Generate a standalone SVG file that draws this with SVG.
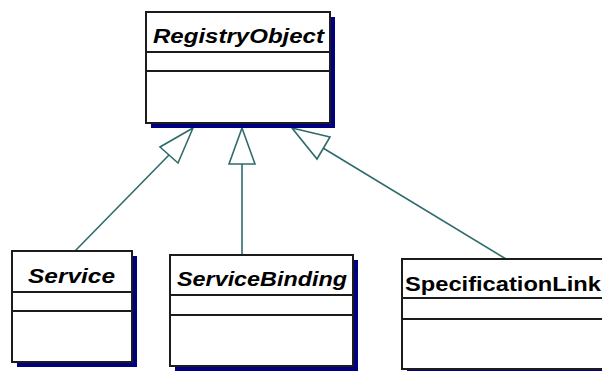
<svg xmlns="http://www.w3.org/2000/svg" width="602" height="371" viewBox="0 0 602 371">
  <defs>
    <style>
      .shadow { fill: #000080; }
      .box { fill: #ffffff; stroke: #1c1c1c; stroke-width: 2; }
      .sep { stroke: #1c1c1c; stroke-width: 2; }
      .name { font-family: "Liberation Sans", Arial, sans-serif; font-weight: bold; font-size: 21px; fill: #000000; }
      .abstract { font-style: italic; }
      .edge { stroke: #2f6b6b; stroke-width: 1.6; fill: none; }
      .head { stroke: #2f6b6b; stroke-width: 1.6; fill: #ffffff; stroke-linejoin: miter; }
    </style>
  </defs>
  <rect width="602" height="371" fill="#ffffff"/>

  <!-- generalization connectors -->
  <g id="connectors">
    <line class="edge" x1="169" y1="155" x2="75" y2="251"/>
    <polygon class="head" points="193,128 160,147 178,163"/>
    <line class="edge" x1="242" y1="164" x2="242" y2="255"/>
    <polygon class="head" points="242,128 229,164 255,164"/>
    <line class="edge" x1="323" y1="148" x2="506" y2="259"/>
    <polygon class="head" points="292,128 330,137 317,159"/>
  </g>

  <!-- abstract base class -->
  <g id="RegistryObject">
    <rect class="shadow" x="151" y="17" width="184" height="111"/>
    <rect class="box" x="146" y="12" width="184" height="111"/>
    <line class="sep" x1="146" y1="52" x2="330" y2="52"/>
    <line class="sep" x1="146" y1="71" x2="330" y2="71"/>
    <text class="name abstract" x="153" y="43" textLength="171" lengthAdjust="spacingAndGlyphs">RegistryObject</text>
  </g>

  <g id="Service">
    <rect class="shadow" x="17" y="256" width="120" height="111"/>
    <rect class="box" x="12" y="251" width="120" height="111"/>
    <line class="sep" x1="12" y1="292" x2="132" y2="292"/>
    <line class="sep" x1="12" y1="311" x2="132" y2="311"/>
    <text class="name abstract" x="28" y="283" textLength="87" lengthAdjust="spacingAndGlyphs">Service</text>
  </g>

  <g id="ServiceBinding">
    <rect class="shadow" x="175" y="260" width="183" height="111"/>
    <rect class="box" x="170" y="255" width="183" height="111"/>
    <line class="sep" x1="170" y1="295" x2="353" y2="295"/>
    <line class="sep" x1="170" y1="315" x2="353" y2="315"/>
    <text class="name abstract" x="177" y="286" textLength="170" lengthAdjust="spacingAndGlyphs">ServiceBinding</text>
  </g>

  <g id="SpecificationLink">
    <rect class="shadow" x="407" y="264" width="210" height="110"/>
    <rect class="box" x="402" y="259" width="210" height="110"/>
    <line class="sep" x1="402" y1="298" x2="612" y2="298"/>
    <line class="sep" x1="402" y1="319" x2="612" y2="319"/>
    <text class="name" x="405" y="291" textLength="196" lengthAdjust="spacingAndGlyphs">SpecificationLink</text>
  </g>
</svg>
